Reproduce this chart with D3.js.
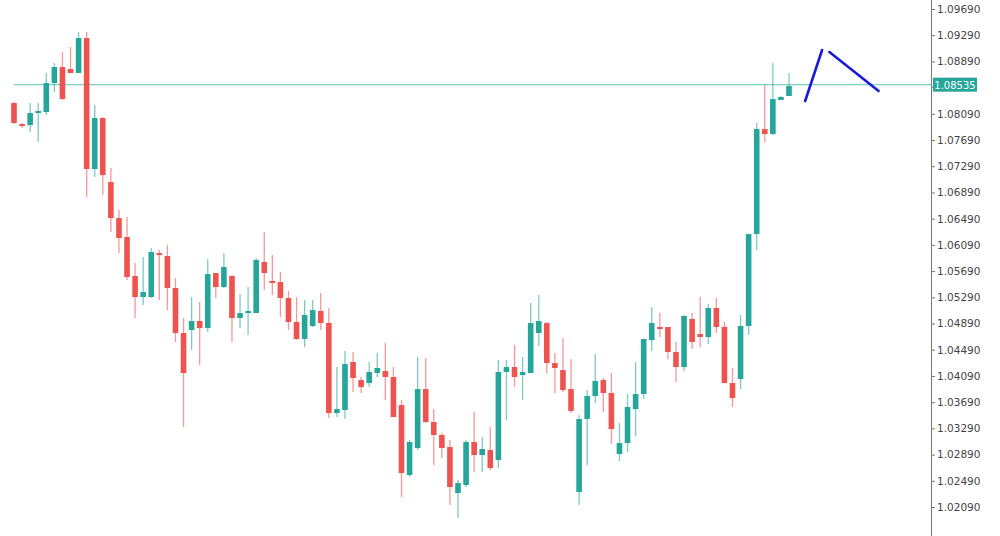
<!DOCTYPE html>
<html><head><meta charset="utf-8">
<script src="https://cdn.jsdelivr.net/npm/d3@7"></script>
<style>body{margin:0;background:#fff}svg{display:block}</style>
</head><body><svg id="c" width="1000" height="536"></svg>
<script>
const open=[1.08255,1.07935,1.07919,1.08118,1.08118,1.08560,1.08805,1.08774,1.08713,1.09247,1.07248,1.08026,1.07049,1.06500,1.06210,1.05615,1.05294,1.05294,1.05966,1.05920,1.05432,1.04745,1.04791,1.04928,1.04821,1.05661,1.05447,1.05615,1.04974,1.05050,1.05050,1.05829,1.05539,1.05523,1.05279,1.04913,1.04654,1.04852,1.05081,1.04898,1.03524,1.03570,1.04303,1.04028,1.03982,1.04135,1.04165,1.04074,1.03646,1.02578,1.02990,1.03890,1.03387,1.03189,1.03005,1.02303,1.02425,1.03082,1.02883,1.02960,1.02807,1.04150,1.04226,1.04104,1.04135,1.04745,1.04898,1.04287,1.04180,1.03890,1.02319,1.03433,1.03784,1.04028,1.03829,1.02899,1.03066,1.03585,1.03814,1.04638,1.04837,1.04837,1.04455,1.04226,1.04959,1.04730,1.04684,1.05127,1.04837,1.03982,1.04043,1.04852,1.06256,1.07858,1.07782,1.08301,1.08362];
const high=[1.08270,1.07950,1.08255,1.08255,1.08713,1.08866,1.09033,1.09110,1.09339,1.09339,1.08225,1.08041,1.07263,1.06622,1.06515,1.05813,1.05905,1.06042,1.06012,1.06088,1.05584,1.04974,1.05294,1.05218,1.05874,1.05661,1.05966,1.05630,1.05340,1.05447,1.05890,1.06286,1.05935,1.05676,1.05386,1.05294,1.05249,1.05249,1.05356,1.05127,1.04226,1.04470,1.04455,1.04074,1.04303,1.04440,1.04592,1.04226,1.03723,1.03112,1.04379,1.04363,1.03585,1.03219,1.03112,1.02502,1.03112,1.03539,1.03158,1.03311,1.04333,1.04333,1.04562,1.04379,1.05203,1.05325,1.04913,1.04440,1.04669,1.04348,1.03494,1.03875,1.04425,1.04058,1.04135,1.03372,1.03814,1.04303,1.04654,1.05142,1.05050,1.04837,1.04608,1.05020,1.05050,1.05294,1.05188,1.05279,1.04913,1.04211,1.05020,1.06256,1.07950,1.08530,1.08866,1.08362,1.08713];
const low=[1.07935,1.07874,1.07813,1.07660,1.08072,1.08423,1.08301,1.08713,1.08713,1.06821,1.07126,1.06851,1.06286,1.05966,1.05554,1.04974,1.05172,1.05279,1.05249,1.05096,1.04608,1.03311,1.04486,1.04257,1.04760,1.05279,1.05432,1.04608,1.04821,1.04715,1.05050,1.05401,1.05325,1.04989,1.04791,1.04638,1.04531,1.04837,1.04791,1.03448,1.03463,1.03433,1.03845,1.03829,1.03921,1.04074,1.03723,1.03463,1.02242,1.02548,1.02960,1.03372,1.02731,1.02837,1.02120,1.01922,1.02395,1.02624,1.02624,1.02654,1.02685,1.03417,1.03921,1.03723,1.04135,1.04547,1.04135,1.03829,1.03845,1.03524,1.02120,1.02731,1.03677,1.03539,1.03051,1.02792,1.02929,1.03173,1.03738,1.04470,1.04684,1.04348,1.03997,1.04165,1.04501,1.04531,1.04577,1.04745,1.03982,1.03616,1.03890,1.04715,1.06012,1.07660,1.07767,1.08301,1.08362];
const close=[1.07950,1.07904,1.08103,1.08133,1.08560,1.08805,1.08316,1.08713,1.09247,1.07248,1.08026,1.07156,1.06500,1.06195,1.05600,1.05294,1.05371,1.05981,1.05935,1.05432,1.04745,1.04135,1.04928,1.04821,1.05645,1.05447,1.05752,1.04974,1.05050,1.05081,1.05859,1.05661,1.05523,1.05279,1.04913,1.04654,1.05020,1.05096,1.04898,1.03524,1.03585,1.04272,1.04058,1.03921,1.04150,1.04211,1.04074,1.03463,1.02609,1.03082,1.03890,1.03387,1.03189,1.02990,1.02395,1.02456,1.03082,1.02883,1.02975,1.02685,1.04150,1.04226,1.04074,1.04150,1.04898,1.04928,1.04287,1.04211,1.03875,1.03555,1.03433,1.03784,1.04013,1.03829,1.03280,1.03066,1.03616,1.03814,1.04654,1.04898,1.04821,1.04455,1.04226,1.05005,1.04608,1.04684,1.05127,1.04837,1.03982,1.03753,1.04852,1.06256,1.07858,1.07782,1.08316,1.08347,1.08515];
const tickValues=[1.09690,1.09290,1.08890,1.08090,1.07690,1.07290,1.06890,1.06490,1.06090,1.05690,1.05290,1.04890,1.04490,1.04090,1.03690,1.03290,1.02890,1.02490,1.02090];
const hiddenTick=1.08490;
const lastPrice=1.08535;
// drawn annotation lines: [index, price] endpoints
const drawnLines=[[[98.0,1.08286],[100.1,1.09064]],[[101.0,1.09033],[107.1,1.08438]]];

const svg=d3.select("#c");
const x=d3.scaleLinear().domain([0,96]).range([14,789]);
const y=d3.scaleLinear().domain([1.02090,1.09690]).range([507,9]);
const up="#26a69a",dn="#ef5350";
const idx=d3.range(open.length);

svg.append("line").attr("x1",14).attr("x2",931).attr("y1",y(lastPrice)).attr("y2",y(lastPrice))
  .attr("stroke","#7fcdbf").attr("stroke-width",1.2);

const g=svg.append("g");
g.selectAll("line.w").data(idx).join("line").attr("class","w")
  .attr("x1",i=>x(i)).attr("x2",i=>x(i)).attr("y1",i=>y(high[i])).attr("y2",i=>y(low[i]))
  .attr("stroke",i=>close[i]>=open[i]?up:dn).attr("stroke-opacity",0.6).attr("stroke-width",1.3);
g.selectAll("rect").data(idx).join("rect")
  .attr("x",i=>x(i)-2.8).attr("width",5.6)
  .attr("y",i=>y(Math.max(open[i],close[i])))
  .attr("height",i=>Math.max(2,Math.abs(y(open[i])-y(close[i]))))
  .attr("fill",i=>close[i]>=open[i]?up:dn);

svg.selectAll("line.d").data(drawnLines).join("line").attr("class","d")
  .attr("x1",d=>x(d[0][0])).attr("y1",d=>y(d[0][1])).attr("x2",d=>x(d[1][0])).attr("y2",d=>y(d[1][1]))
  .attr("stroke","#1a1adb").attr("stroke-width",2.6).attr("stroke-linecap","round");

const ax=svg.append("g").attr("transform","translate(931,0)")
  .call(d3.axisRight(y).tickValues(tickValues).tickFormat(d3.format(".5f")).tickSize(4).tickPadding(2));
ax.select(".domain").remove();
svg.append("line").attr("x1",931.5).attr("x2",931.5).attr("y1",0).attr("y2",536).attr("stroke","#777");
svg.append("line").attr("x1",931).attr("x2",935).attr("y1",y(hiddenTick)).attr("y2",y(hiddenTick)).attr("stroke","#777");
ax.selectAll(".tick line").attr("stroke","#777");
ax.selectAll("text").attr("fill","#444").style("font-family","DejaVu Sans, sans-serif").style("font-size","10.5px");

const ly=y(lastPrice);
svg.append("rect").attr("x",933).attr("y",ly-7).attr("width",44).attr("height",14).attr("fill","#26a69a");
svg.append("text").attr("x",955).attr("y",ly+4).attr("text-anchor","middle").attr("fill","#fff")
  .style("font-family","DejaVu Sans, sans-serif").style("font-size","10px").text(d3.format(".5f")(lastPrice));
</script></body></html>
